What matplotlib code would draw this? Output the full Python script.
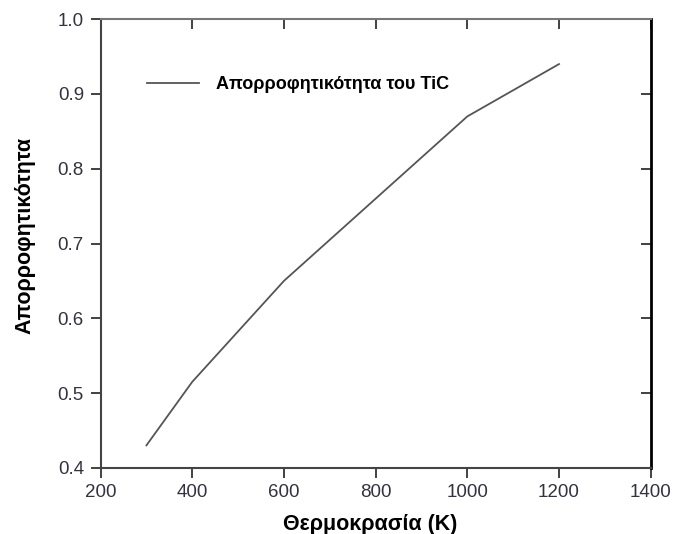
import matplotlib
matplotlib.use("Agg")
import matplotlib.pyplot as plt

plt.rcParams['font.family'] = ['Liberation Sans', 'DejaVu Sans']

# data
temperature = [300, 400, 600, 800, 1000, 1200]
absorptivity = [0.43, 0.515, 0.65, 0.76, 0.87, 0.94]

xticks = [200, 400, 600, 800, 1000, 1200, 1400]
yticks = [0.4, 0.5, 0.6, 0.7, 0.8, 0.9, 1.0]

fig = plt.figure(figsize=(6.75, 5.34), dpi=100)
ax = fig.add_axes([0.149, 0.124, 0.815, 0.840])

line, = ax.plot(temperature, absorptivity, color='#555555', lw=1.3)

ax.set_xlim(200, 1400)
ax.set_ylim(0.4, 1.0)
ax.set_xticks(xticks)
ax.set_yticks(yticks)
ax.set_yticklabels([f"{v:.1f}" for v in yticks])

# ticks point out on left/bottom, in on top/right
ax.tick_params(axis='both', which='major', direction='out', length=7,
               width=1.3, labelsize=13.5, labelcolor='#333340',
               color='#333333', pad=5)
ax.tick_params(axis='x', which='major', top=True)
ax.tick_params(axis='y', which='major', right=True)
for t in ax.xaxis.get_major_ticks():
    t.tick2line.set_marker(3)  # TICKDOWN from top spine -> inward
for t in ax.yaxis.get_major_ticks():
    t.tick2line.set_marker(0)  # TICKLEFT from right spine -> inward

for side in ['left', 'bottom']:
    ax.spines[side].set_color('#444444')
    ax.spines[side].set_linewidth(1.5)
ax.spines['top'].set_color('#777777')
ax.spines['top'].set_linewidth(1.5)
ax.spines['right'].set_color('black')
ax.spines['right'].set_linewidth(2)

ax.set_xlabel("Θερμοκρασία (K)", fontsize=15.5, fontweight='bold')
ax.xaxis.set_label_coords(0.49, -0.102)
ax.set_ylabel("Απορροφητικότητα", fontsize=15.5, fontweight='bold')
ax.yaxis.set_label_coords(-0.118, 0.517)

ax.legend([line], ["Απορροφητικότητα του TiC"], loc='upper left',
          bbox_to_anchor=(0.055, 0.91), frameon=False, handlelength=2.9,
          handletextpad=0.9, prop={'weight': 'bold', 'size': 13})

fig.savefig("out.png", dpi=100)
